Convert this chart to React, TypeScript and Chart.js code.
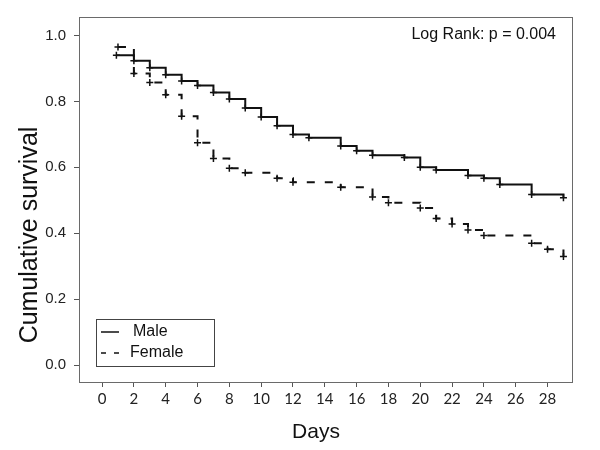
import React, { useEffect, useRef } from "react";
import { Chart, registerables } from "chart.js";

Chart.register(...registerables);

const maleDays = [0.9, 2, 3, 4, 5, 6, 7, 8, 9, 10, 11, 12, 13, 15, 16, 17, 19, 20, 21, 23, 24, 25, 27, 29];
const maleSurv = [0.94, 0.923, 0.902, 0.881, 0.862, 0.848, 0.827, 0.807, 0.78, 0.753, 0.726, 0.7, 0.69, 0.665, 0.65, 0.637, 0.63, 0.6, 0.592, 0.575, 0.567, 0.548, 0.518, 0.508];

const femaleDays = [1, 2, 3, 4, 5, 6, 7, 8, 9, 11, 12, 15, 17, 18, 20, 21, 22, 23, 24, 27, 28, 29];
const femaleSurv = [0.965, 0.885, 0.857, 0.82, 0.755, 0.675, 0.627, 0.597, 0.584, 0.567, 0.555, 0.54, 0.51, 0.493, 0.477, 0.445, 0.428, 0.41, 0.393, 0.37, 0.352, 0.33];

const xTicks = [0, 2, 4, 6, 8, 10, 12, 14, 16, 18, 20, 22, 24, 26, 28];
const yTicks = [0.0, 0.2, 0.4, 0.6, 0.8, 1.0];

const seriesLabels = ["Male", "Female"];
const annotationText = "Log Rank: p = 0.004";
const xTitle = "Days";
const yTitle = "Cumulative survival";

const FONT = "'Liberation Sans', Arial, sans-serif";

const decorPlugin = {
  id: "decor",
  afterDraw(chart: any) {
    const { ctx, chartArea } = chart;
    const { left, right, top, bottom } = chartArea;
    ctx.save();
    // frame
    ctx.strokeStyle = "#6a6a6a";
    ctx.lineWidth = 1;
    ctx.setLineDash([]);
    ctx.strokeRect(left + 0.5, top + 0.5, right - left - 1, bottom - top - 1);

    // annotation
    ctx.fillStyle = "#111";
    ctx.font = `16px ${FONT}`;
    ctx.textAlign = "right";
    ctx.textBaseline = "middle";
    ctx.fillText(annotationText, 556, 35);

    // axis titles
    ctx.font = `21px ${FONT}`;
    ctx.textAlign = "center";
    ctx.textBaseline = "middle";
    ctx.fillText(xTitle, 316, 432);
    ctx.save();
    ctx.translate(30, 235);
    ctx.rotate(-Math.PI / 2);
    ctx.font = `25px ${FONT}`;
    ctx.fillText(yTitle, 0, 0);
    ctx.restore();

    // legend
    const bx = 96, by = 319, bw = 118, bh = 47;
    ctx.strokeStyle = "#444";
    ctx.lineWidth = 1;
    ctx.strokeRect(bx + 0.5, by + 0.5, bw, bh);
    const ds = chart.data.datasets;
    const rows = [332, 353];
    ds.forEach((d: any, i: number) => {
      const y = rows[i];
      ctx.strokeStyle = "#111";
      ctx.lineWidth = 1.5;
      ctx.setLineDash(i === 0 ? [] : [5, 8]);
      ctx.beginPath();
      ctx.moveTo(101, y);
      ctx.lineTo(119, y);
      ctx.stroke();
      ctx.setLineDash([]);
      ctx.fillStyle = "#111";
      ctx.font = `16px ${FONT}`;
      ctx.textAlign = "left";
      ctx.textBaseline = "middle";
      ctx.fillText(d.label, i === 0 ? 133 : 130, y);
    });
    ctx.restore();
  },
};

export default function App() {
  const ref = useRef<HTMLCanvasElement | null>(null);
  useEffect(() => {
    if (!ref.current) return;
    const chart = new Chart(ref.current, {
      type: "line",
      data: {
        datasets: [
          {
            label: seriesLabels[0],
            data: maleDays.map((d, i) => ({ x: d, y: maleSurv[i] })),
            stepped: "before",
            borderColor: "#111",
            borderWidth: 2,
            pointStyle: "cross",
            pointRadius: 3.5,
            pointBorderWidth: 1.5,
            pointBorderColor: "#111",
            fill: false,
          },
          {
            label: seriesLabels[1],
            data: femaleDays.map((d, i) => ({ x: d, y: femaleSurv[i] })),
            stepped: "before",
            borderColor: "#111",
            borderWidth: 2,
            borderDash: [8, 10],
            pointStyle: "cross",
            pointRadius: 3.5,
            pointBorderWidth: 1.5,
            pointBorderColor: "#111",
            fill: false,
          },
        ],
      },
      options: {
        responsive: false,
        animation: false,
        layout: { padding: { left: 0, top: 13, right: 27, bottom: 0 } },
        plugins: { legend: { display: false }, title: { display: false }, tooltip: { enabled: false } },
        scales: {
          x: {
            type: "linear",
            min: -1.45,
            max: 29.6,
            afterFit: (s: any) => { s.height = 67; },
            afterBuildTicks: (s: any) => { s.ticks = xTicks.map((v) => ({ value: v })); },
            border: { display: false },
            grid: { drawOnChartArea: false, drawTicks: true, tickLength: 4, color: "#555" },
            ticks: { padding: 3, color: "#222", font: { family: "Lato, 'Liberation Sans', sans-serif", size: 15 }, maxRotation: 0, autoSkip: false },
          },
          y: {
            type: "linear",
            min: -0.054,
            max: 1.056,
            afterFit: (s: any) => { s.width = 79; },
            afterBuildTicks: (s: any) => { s.ticks = yTicks.map((v) => ({ value: v })); },
            border: { display: false },
            grid: { drawOnChartArea: false, drawTicks: true, tickLength: 5, color: "#555" },
            ticks: { padding: 8, color: "#222", font: { family: FONT, size: 15 }, callback: (v: any) => Number(v).toFixed(1) },
          },
        },
      },
      plugins: [decorPlugin],
    });
    return () => chart.destroy();
  }, []);
  return (
    <div style={{ position: "absolute", left: 0, top: 0, width: 600, height: 450, background: "#fff" }}>
      <canvas ref={ref} width={600} height={450} style={{ display: "block" }} />
    </div>
  );
}
